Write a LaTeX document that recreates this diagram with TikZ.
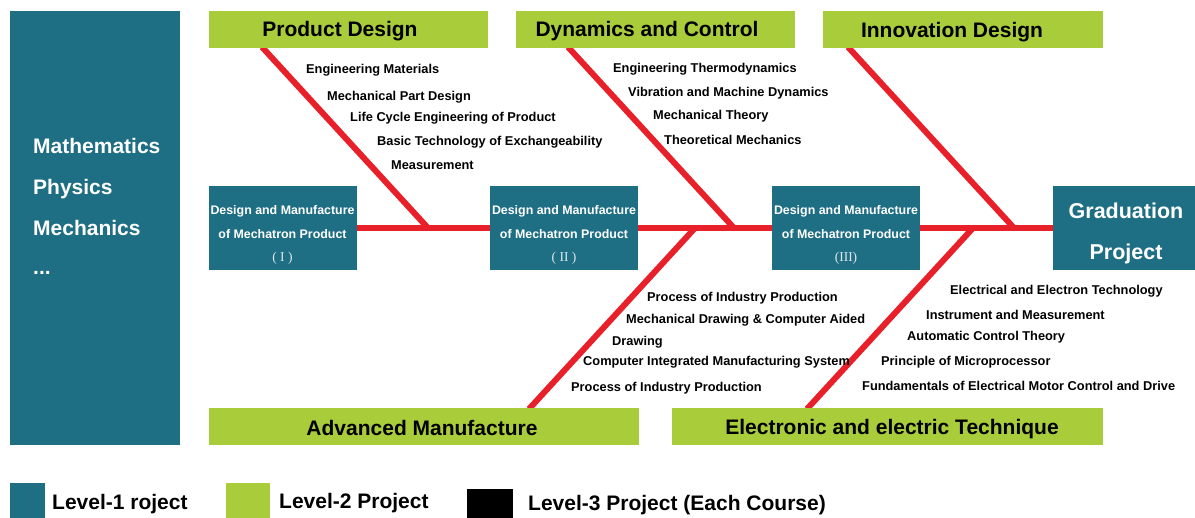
\documentclass[tikz,border=0pt]{standalone}
\usepackage{fontspec}
\setmainfont{Liberation Sans}
\newfontfamily\numfont{Liberation Serif}
\definecolor{levelone}{HTML}{1E6E84}
\definecolor{leveltwo}{HTML}{A9CC3A}
\definecolor{branch}{HTML}{E8202A}
\tikzset{
  l1box/.style={fill=levelone, inner sep=0pt, outer sep=0pt},
  l2box/.style={fill=leveltwo, inner sep=0pt, outer sep=0pt, minimum height=37pt},
  bone/.style={draw=branch, line width=6pt},
  bigtitle/.style={font=\fontsize{21}{25}\selectfont\bfseries, text=black, inner sep=0pt},
  course/.style={font=\fontsize{12.8}{15}\selectfont\bfseries, text=black, anchor=west, inner sep=0pt, yshift=-1.5pt},
  basetext/.style={font=\fontsize{21}{25}\selectfont\bfseries, text=white, anchor=west, inner sep=0pt},
  stagetext/.style={font=\fontsize{12.4}{23.5}\selectfont\bfseries, text=white, align=center, inner sep=0pt},
  legendtext/.style={font=\fontsize{21}{25}\selectfont\bfseries, text=black, anchor=west, inner sep=0pt},
  numeral/.style={font=\numfont\fontsize{13.5}{23.5}\selectfont},
}
\begin{document}
\begin{tikzpicture}[x=1pt, y=-1pt]
\useasboundingbox (0,0) rectangle (1195,518);

% foundation column
\node[l1box, minimum width=170pt, minimum height=434pt] (base) at (95,228) {};
\node[basetext] (m1) at (33,146) {Mathematics};
\node[basetext] (m2) at (33,189) {Physics};
\node[basetext] (m3) at (33,228) {Mechanics};
\node[basetext] (m4) at (33,273) {...};

% spine junctions and branch ends
\coordinate (j1) at (428,228);
\coordinate (j2) at (734,228);
\coordinate (j3) at (1014,228);
\coordinate (k1) at (695,228);
\coordinate (k2) at (973,228);
\coordinate (t1) at (262,47);
\coordinate (t2) at (568,47);
\coordinate (t3) at (848,47);
\coordinate (b1) at (529,409);
\coordinate (b2) at (807,409);

% stage boxes
\node[l1box, minimum width=148pt, minimum height=84pt] (d1) at (282.5,228.5) {};
\node[l1box, minimum width=148pt, minimum height=84pt] (d2) at (564,228.5) {};
\node[l1box, minimum width=148pt, minimum height=84pt] (d3) at (846,228.5) {};
\node[l1box, minimum width=142pt, minimum height=84pt] (grad) at (1124,228.5) {};

% spine
\draw[bone] (d1.east) -- (d2.west);
\draw[bone] (d2.east) -- (d3.west);
\draw[bone] (d3.east) -- (grad.west);

% branches
\draw[bone] (t1) -- (j1);
\draw[bone] (t2) -- (j2);
\draw[bone] (t3) -- (j3);
\draw[bone] (b1) -- (k1);
\draw[bone] (b2) -- (k2);

% stage labels
\node[stagetext] (d1t) at (282.5,235) {Design and Manufacture\\of Mechatron Product\\{\numfont\mdseries\fontsize{13.5}{23.5}\selectfont\color{white!85!levelone}( I )}};
\node[stagetext] (d2t) at (564,235) {Design and Manufacture\\of Mechatron Product\\{\numfont\mdseries\fontsize{13.5}{23.5}\selectfont\color{white!85!levelone}( II )}};
\node[stagetext] (d3t) at (846,235) {Design and Manufacture\\of Mechatron Product\\{\numfont\mdseries\fontsize{13.5}{23.5}\selectfont\color{white!85!levelone}(III)}};
\node[bigtitle, text=white, align=center, font=\fontsize{21.5}{41}\selectfont\bfseries] (gradt) at (1126,233) {Graduation\\Project};

% level-2 boxes
\node[l2box, minimum width=279pt] (pd) at (348.5,29.5) {};
\node[l2box, minimum width=279pt] (dc) at (655.5,29.5) {};
\node[l2box, minimum width=280pt] (id) at (963,29.5) {};
\node[l2box, minimum width=430pt] (am) at (424,426.5) {};
\node[l2box, minimum width=431pt] (ee) at (887.5,426.5) {};
\node[bigtitle] (pdt) at (340,31) {Product Design};
\node[bigtitle] (dct) at (647,31) {Dynamics and Control};
\node[bigtitle] (idt) at (952,32) {Innovation Design};
\node[bigtitle] (amt) at (422,428) {Advanced Manufacture};
\node[bigtitle] (eet) at (892,429) {Electronic and electric Technique};

% courses: product design
\node[course] (c11) at (306,69) {Engineering Materials};
\node[course] (c12) at (327,96) {Mechanical Part Design};
\node[course] (c13) at (350,117) {Life Cycle Engineering of Product};
\node[course] (c14) at (377,141) {Basic Technology of Exchangeability};
\node[course] (c15) at (391,164) {Measurement};
% courses: dynamics and control
\node[course] (c21) at (613,68) {Engineering Thermodynamics};
\node[course] (c22) at (628,92) {Vibration and Machine Dynamics};
\node[course] (c23) at (653,115) {Mechanical Theory};
\node[course] (c24) at (664,138) {Theoretical Mechanics};
% courses: advanced manufacture
\node[course] (c31) at (647,297) {Process of Industry Production};
\node[course] (c32) at (626,319) {Mechanical Drawing \& Computer Aided};
\node[course] (c33) at (612,341) {Drawing};
\node[course] (c34) at (583,361) {Computer Integrated Manufacturing System};
\node[course] (c35) at (571,387) {Process of Industry Production};
% courses: electronic and electric technique
\node[course] (c41) at (950,290) {Electrical and Electron Technology};
\node[course] (c42) at (926,313) {Instrument and Measurement};
\node[course] (c43) at (907,336) {Automatic Control Theory};
\node[course] (c44) at (881,361) {Principle of Microprocessor};
\node[course] (c45) at (862,384) {Fundamentals of Electrical Motor Control and Drive};

% legend
\node[fill=levelone, inner sep=0pt, minimum width=35pt, minimum height=35pt] (k1box) at (27.5,500.5) {};
\node[legendtext] (k1t) at (52,504) {Level-1 roject};
\node[fill=leveltwo, inner sep=0pt, minimum width=44pt, minimum height=35pt] (k2box) at (248,500.5) {};
\node[legendtext] (k2t) at (279,503) {Level-2 Project};
\node[fill=black, inner sep=0pt, minimum width=46pt, minimum height=29pt] (k3box) at (490,503.5) {};
\node[legendtext] (k3t) at (528,505) {Level-3 Project (Each Course)};
\end{tikzpicture}
\end{document}
